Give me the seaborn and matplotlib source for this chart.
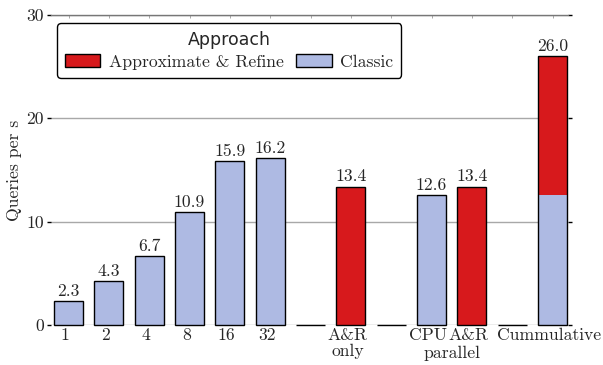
import matplotlib
matplotlib.use("Agg")
import matplotlib.pyplot as plt
import seaborn as sns
import pandas as pd
from matplotlib.patches import Rectangle

# Slots along the x axis (gap slots are empty spacers)
slots = ["1", "2", "4", "8", "16", "32", "gap1", "A&R only", "gap2",
         "CPU", "A&R par", "gap3", "Cummulative"]
tick_labels = ["1", "2", "4", "8", "16", "32", "", "A&R\nonly", "",
               "CPU", "A&R", "", "Cummulative"]

# Queries per second for each approach (stacked in the last slot)
classic = [2.3, 4.3, 6.7, 10.9, 15.9, 16.2, 0, 0, 0, 12.6, 0, 0, 12.6]
approx_refine = [0, 0, 0, 0, 0, 0, 0, 13.4, 0, 0, 13.4, 0, 13.4]

RED = "#d7191c"
BLUE = "#aebae3"

sns.set_style("white")
plt.rcParams["font.family"] = ["cmr10", "DejaVu Serif"]
plt.rcParams["axes.formatter.use_mathtext"] = True
plt.rcParams["mathtext.fontset"] = "cm"
FS = 12.7

totals = [round(c + a, 1) for c, a in zip(classic, approx_refine)]
df = pd.DataFrame({"slot": slots, "classic": classic,
                   "approx": approx_refine, "total": totals})

fig = plt.figure(figsize=(6.03, 3.65), dpi=100)
ax = fig.add_axes([51 / 603, 1 - 325 / 365, (568 - 51) / 603, 310 / 365])

W = 0.72
# Red part: drawn to the stack total, classic drawn over its base
sns.barplot(data=df, x="slot", y="total", order=slots, color=RED,
            width=W, linewidth=0, saturation=1, ax=ax,
            errorbar=None, zorder=2)
sns.barplot(data=df, x="slot", y="classic", order=slots, color=BLUE,
            width=W, linewidth=0, saturation=1, ax=ax,
            errorbar=None, zorder=3)
# Black outline around each full bar (zero-height slots show as a line)
sns.barplot(data=df, x="slot", y="total", order=slots, fill=False,
            color="black", width=W, linewidth=1.0, ax=ax,
            errorbar=None, zorder=4)
for p in ax.patches:
    p.set_clip_on(False)

# Value labels above each bar
for i, v in enumerate(totals):
    if v > 0:
        ax.text(i, v + 0.2, f"{v:.1f}", ha="center", va="bottom",
                fontsize=FS, zorder=5)

ax.set_ylim(0, 30)
ax.set_xlim(-0.434, 12.384)
ax.set_yticks([0, 10, 20, 30])
ax.set_yticklabels(["0", "10", "20", "30"], fontsize=FS)

# Category labels sit slightly left of the bar centres
label_nudge = 0.08
positions = list(range(len(slots)))
ax.set_xticks([i - label_nudge for i in positions])
ax.set_xticklabels(tick_labels, fontsize=FS, linespacing=1.05)
ax.set_xticks(positions, minor=True)
ax.set_xlabel("")
ax.set_ylabel("Queries per s", fontsize=FS, labelpad=3)

# Shared second line under the two parallel bars
ax.annotate("parallel", xy=(9.5, 0), xycoords=("data", "axes fraction"),
            xytext=(0, -24), textcoords="offset points",
            ha="center", va="baseline", fontsize=FS)

ax.yaxis.grid(True, color="#a8a8a8", linewidth=1.0, zorder=0)
ax.set_axisbelow(True)
for s in ["left", "right", "bottom"]:
    ax.spines[s].set_visible(False)
ax.spines["top"].set_color("#777777")
ax.spines["top"].set_linewidth(1.0)

ax.tick_params(axis="y", which="both", left=True, right=True, length=3,
               width=1, color="black", direction="out", pad=2)
ax.tick_params(axis="x", which="major", top=False, bottom=False, length=0, pad=2)
ax.tick_params(axis="x", which="minor", top=True, bottom=False, length=2,
               width=0.6, color="#999999", direction="in")

handles = [Rectangle((0, 0), 1, 1, facecolor=RED, edgecolor="black", linewidth=1),
           Rectangle((0, 0), 1, 1, facecolor=BLUE, edgecolor="black", linewidth=1)]
leg = ax.legend(handles, ["Approximate & Refine", "Classic"], title="Approach",
                ncol=2, loc="upper left", bbox_to_anchor=(6 / 517, 1 - 8 / 310),
                borderaxespad=0,
                fontsize=FS, frameon=True, fancybox=True, edgecolor="black",
                handlelength=2.0, handleheight=0.7, columnspacing=0.7,
                handletextpad=0.5, borderpad=0.45, labelspacing=0.3,
                framealpha=1)
leg.get_title().set_fontfamily("DejaVu Sans")
leg.get_title().set_fontsize(12.5)
leg.get_frame().set_linewidth(1.0)
leg.set_zorder(10)

fig.savefig("out.png", dpi=100)
